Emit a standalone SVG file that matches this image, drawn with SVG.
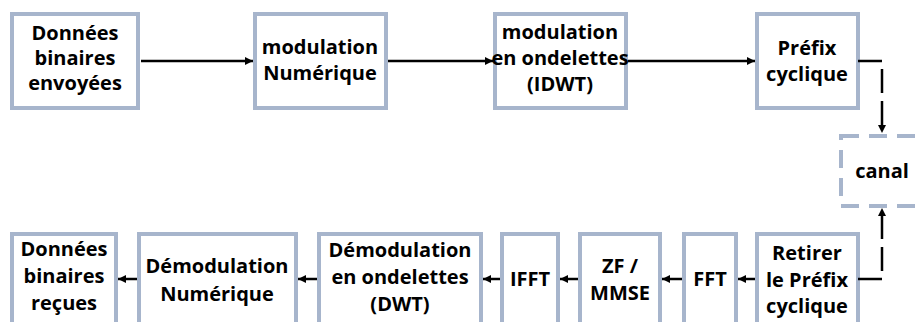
<svg xmlns="http://www.w3.org/2000/svg" width="918" height="322" viewBox="0 0 918 322">
<style>
.box{fill:#fff;stroke:#A7B5CC;stroke-width:4}
.dbox{fill:#fff;stroke:#A7B5CC;stroke-width:4;stroke-dasharray:18 10}
text{font-family:"Open Sans","Liberation Sans",sans-serif;font-weight:bold;font-size:20px;fill:#000;text-anchor:middle}
.c{fill:none;stroke:#000;stroke-width:2.5}
.d{fill:none;stroke:#000;stroke-width:2.5;stroke-dasharray:24 8}
</style>
<defs>
<marker id="ah" markerWidth="10" markerHeight="10" refX="9" refY="5" orient="auto" markerUnits="userSpaceOnUse">
<path d="M1,1 L9,5 L1,9 Z" fill="#000"/>
</marker>
</defs>
<rect width="918" height="322" fill="#fff"/>
<g id="n1"><rect class="box" x="12" y="14" width="126" height="94"/><text x="75" y="40">Données</text><text x="75" y="65">binaires</text><text x="75" y="90">envoyées</text></g>
<g id="n2"><rect class="box" x="255" y="14" width="131" height="94"/><text x="320" y="54">modulation</text><text x="320" y="80">Numérique</text></g>
<g id="n3"><rect class="box" x="495" y="14" width="131" height="94"/><text x="560" y="39">modulation</text><text x="560" y="65">en ondelettes</text><text x="560" y="91">(IDWT)</text></g>
<g id="n4"><rect class="box" x="757" y="14" width="101" height="94"/><text x="807" y="55">Préfix</text><text x="807" y="81">cyclique</text></g>
<g id="n5"><rect class="dbox" x="841" y="136" width="100" height="70"/><text x="882" y="178">canal</text></g>
<g id="n6"><rect class="box" x="757" y="234" width="101" height="100"/><text x="807" y="260">Retirer</text><text x="807" y="287">le Préfix</text><text x="807" y="313">cyclique</text></g>
<g id="n7"><rect class="box" x="684" y="234" width="52" height="100"/><text x="710" y="286">FFT</text></g>
<g id="n8"><rect class="box" x="580" y="234" width="80" height="100"/><text x="620" y="273">ZF /</text><text x="620" y="300">MMSE</text></g>
<g id="n9"><rect class="box" x="502" y="234" width="56" height="100"/><text x="530" y="286">IFFT</text></g>
<g id="n10"><rect class="box" x="319" y="234" width="162" height="100"/><text x="400" y="257">Démodulation</text><text x="400" y="284">en ondelettes</text><text x="400" y="311">(DWT)</text></g>
<g id="n11"><rect class="box" x="139" y="234" width="157" height="100"/><text x="217" y="273">Démodulation</text><text x="217" y="301">Numérique</text></g>
<g id="n12"><rect class="box" x="12" y="234" width="104" height="100"/><text x="64" y="256">Données</text><text x="64" y="283">binaires</text><text x="64" y="310">reçues</text></g>
<g id="connectors">
<path class="c" d="M141,61 H253" marker-end="url(#ah)"/>
<path class="c" d="M388,61 H493" marker-end="url(#ah)"/>
<path class="c" d="M628,61 H755" marker-end="url(#ah)"/>
<path class="d" d="M858,61 H882 V133" marker-end="url(#ah)"/>
<path class="d" d="M858,279 H882 V208" marker-end="url(#ah)"/>
<path class="c" d="M755,279 H738" marker-end="url(#ah)"/>
<path class="c" d="M682,279 H662" marker-end="url(#ah)"/>
<path class="c" d="M578,279 H560" marker-end="url(#ah)"/>
<path class="c" d="M500,279 H483" marker-end="url(#ah)"/>
<path class="c" d="M317,279 H298" marker-end="url(#ah)"/>
<path class="c" d="M137,279 H118" marker-end="url(#ah)"/>
</g>
</svg>
